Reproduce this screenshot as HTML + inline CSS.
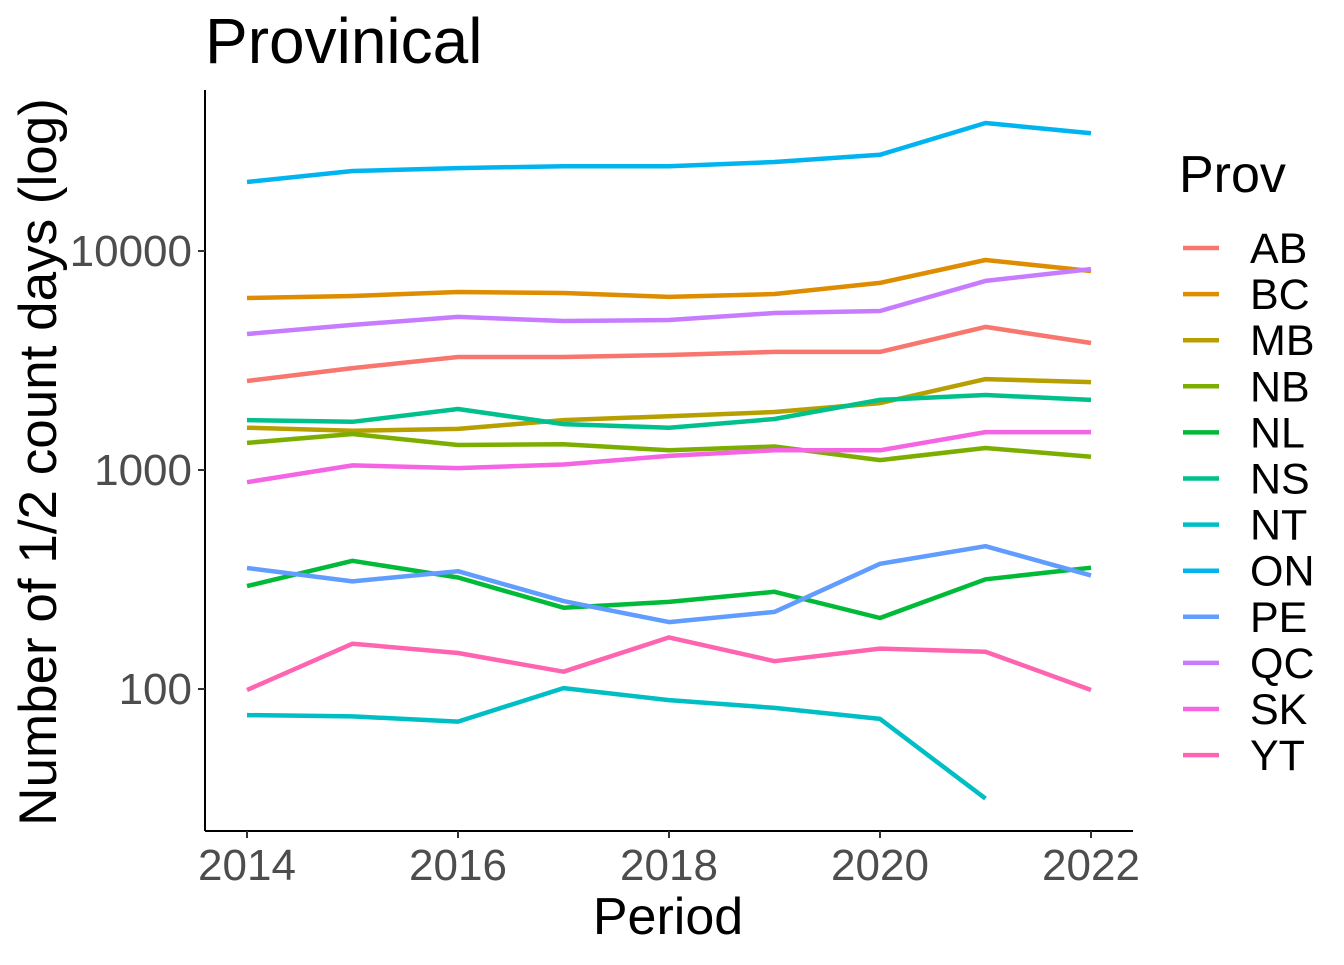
<!DOCTYPE html>
<html><head><meta charset="utf-8"><style>
body{margin:0;background:#fff;width:1344px;height:960px;overflow:hidden}
svg text{font-family:"Liberation Sans",Arial,sans-serif}
</style></head><body>
<svg id="chart" width="1344" height="960" xmlns="http://www.w3.org/2000/svg">
<text x="205" y="63" font-size="64" fill="#000">Provinical</text>
<g id="plot"></g>
<line x1="205" y1="90" x2="205" y2="831" stroke="#000" stroke-width="2"/>
<line x1="205" y1="831" x2="1133" y2="831" stroke="#000" stroke-width="2"/>
<g id="xticks"></g>
<g id="yticks"></g>
<text x="668" y="934" font-size="52" text-anchor="middle">Period</text>
<text transform="translate(56,462) rotate(-90)" font-size="53" text-anchor="middle">Number of 1/2 count days (log)</text>
<text x="1179" y="192" font-size="52">Prov</text>
<g id="legend"></g>
</svg>
<script>
const years=[2014,2015,2016,2017,2018,2019,2020,2021,2022];
const provs=["AB","BC","MB","NB","NL","NS","NT","ON","PE","QC","SK","YT"];
const colors=["#F8766D","#DE8C00","#B79F00","#7CAE00","#00BA38","#00C08B","#00BFC4","#00B4F0","#619CFF","#C77CFF","#F564E3","#FF64B0"];
const AB=[2550,2920,3280,3280,3350,3460,3460,4500,3800];
const BC=[6100,6230,6500,6430,6170,6360,7150,9100,8100];
const MB=[1560,1510,1540,1690,1760,1840,2020,2600,2520];
const NB=[1330,1460,1300,1310,1230,1280,1110,1260,1150];
const NL=[295,385,323,235,250,278,211,317,358];
const NS=[1690,1660,1900,1620,1560,1710,2090,2200,2090];
const NT=[76,75,71,101,89,82,73,31.6,null];
const ON=[20650,23200,23900,24400,24400,25500,27500,38400,34500];
const PE=[357,310,345,252,202,225,373,449,330];
const QC=[4180,4600,5000,4790,4840,5210,5320,7300,8270];
const SK=[880,1050,1020,1060,1160,1230,1230,1490,1490];
const YT=[99,161,146,120,172,134,153,148,99];
const series=[AB,BC,MB,NB,NL,NS,NT,ON,PE,QC,SK,YT];
const xTicks=[2014,2016,2018,2020,2022];
const yTicks=[100,1000,10000];
const NS_="http://www.w3.org/2000/svg";
const x=v=>247+(v-2014)*105.5;
const y=v=>251-(Math.log10(v)-4)*219;
function mk(t,a,p){const e=document.createElementNS(NS_,t);for(const k in a)e.setAttribute(k,a[k]);p.appendChild(e);return e;}
const plot=document.getElementById('plot');
series.forEach((s,i)=>{let d="";let pen=false;s.forEach((v,j)=>{if(v==null){pen=false;return;}d+=(pen?"L":"M")+x(years[j]).toFixed(1)+","+y(v).toFixed(1);pen=true;});
const p=mk('path',{d:d,fill:"none",stroke:colors[i],"stroke-width":4.5,"stroke-linejoin":"round"},plot);

});
const xt=document.getElementById('xticks');
xTicks.forEach(t=>{const l=mk('line',{x1:x(t),x2:x(t),y1:831,y2:838,stroke:"#333","stroke-width":2},xt);


const tx=mk('text',{x:x(t),y:880,"font-size":44,"text-anchor":"middle",fill:"#4d4d4d"},xt);tx.textContent=t;

});
const yt=document.getElementById('yticks');
yTicks.forEach(t=>{const l=mk('line',{x1:198,x2:205,y1:y(t),y2:y(t),stroke:"#333","stroke-width":2},yt);


const tx=mk('text',{x:192,y:y(t)+15,"font-size":44,"text-anchor":"end",fill:"#4d4d4d"},yt);tx.textContent=t;

});
const lg=document.getElementById('legend');
provs.forEach((p,i)=>{const yy=248+i*46.1;
const l=mk('line',{x1:1183,x2:1219,y1:yy,y2:yy,stroke:colors[i],"stroke-width":4.5},lg);


const tx=mk('text',{x:1250,y:yy+15,"font-size":43,fill:"#000"},lg);tx.textContent=p;

});
</script>
</body></html>
